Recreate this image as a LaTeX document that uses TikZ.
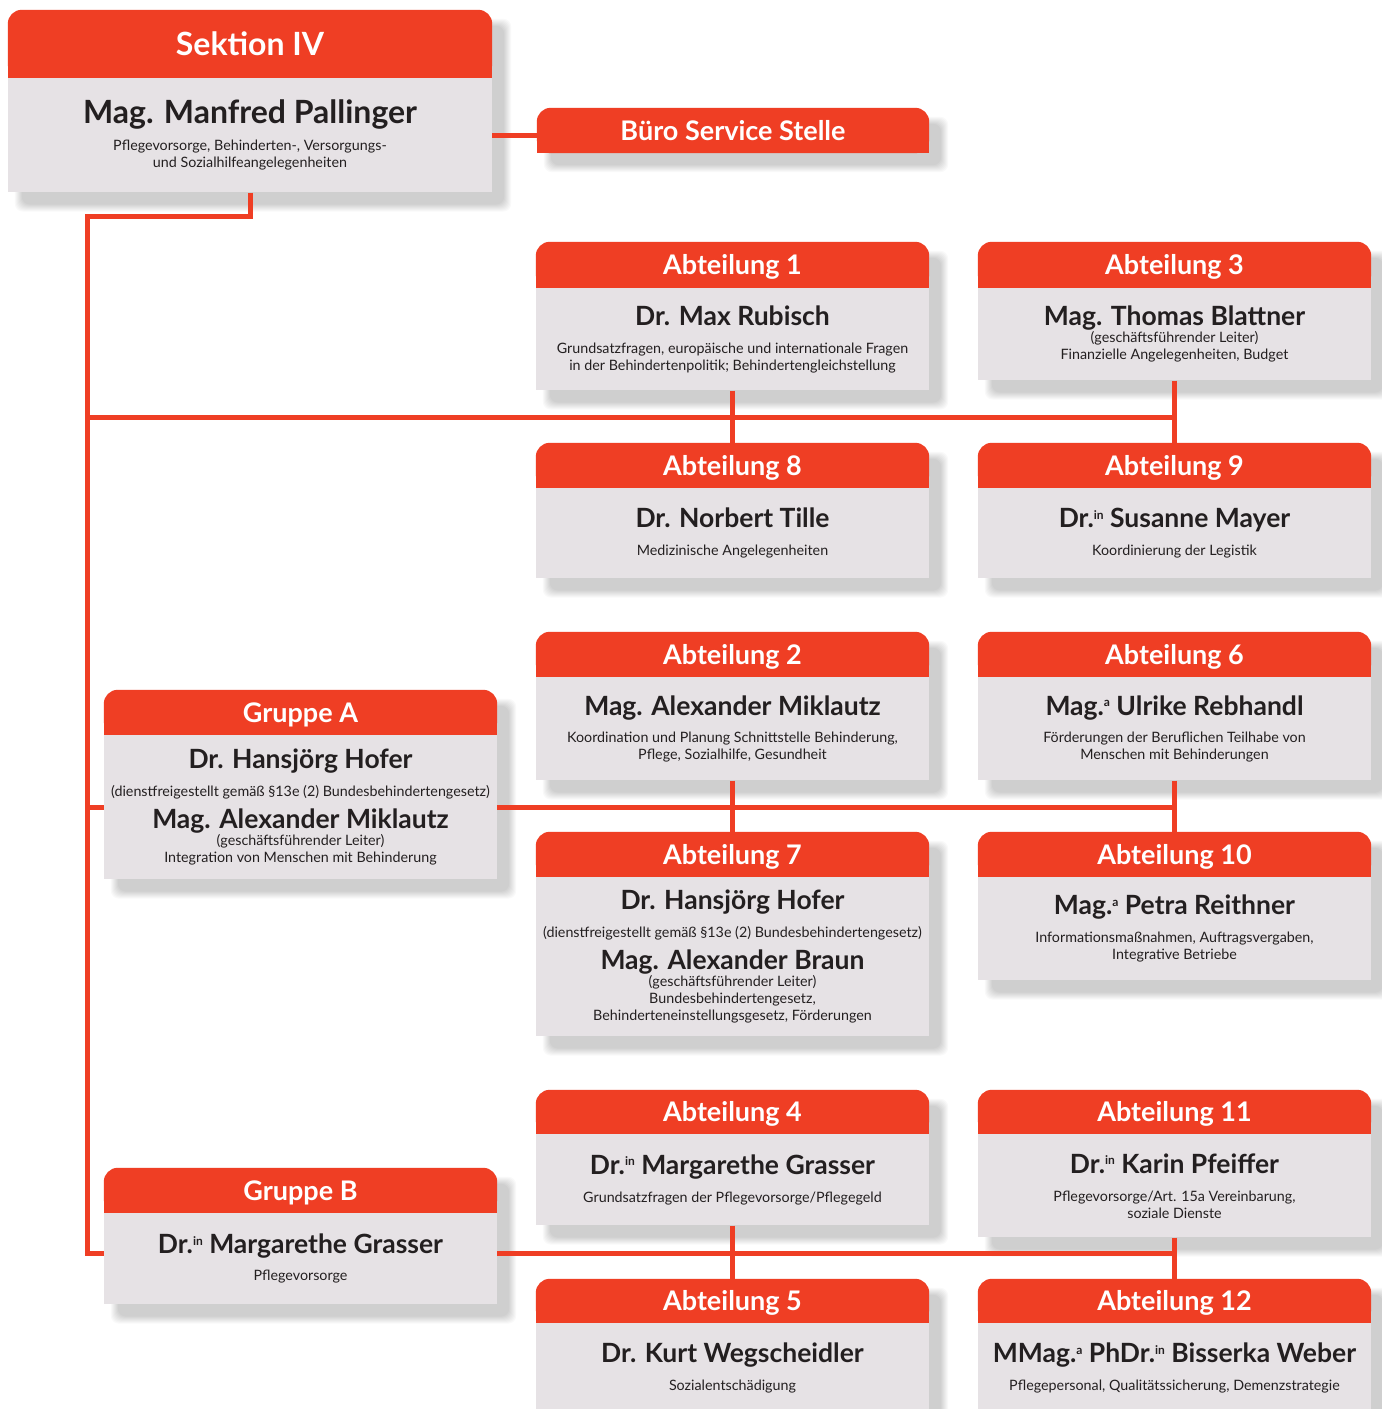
\documentclass[tikz,border=0pt]{standalone}
\usepackage{fontspec}
\setmainfont{Lato}
\usetikzlibrary{positioning,calc}
\definecolor{sekred}{HTML}{EF3E24}
\definecolor{boxgray}{HTML}{E6E2E5}
\definecolor{ink}{HTML}{231F20}
\pgfdeclarelayer{shade}
\pgfdeclarelayer{background}
\pgfsetlayers{shade,background,main}
\setlength{\lineskiplimit}{-50pt}
\newcommand\nm[1]{{\fontsize{26.5}{28}\selectfont\bfseries #1}}
\newcommand\nmbig[1]{{\fontsize{32}{34}\selectfont\bfseries #1}}
\newcommand\hoch[1]{\raisebox{8.5pt}{\fontsize{12}{12}\selectfont #1}}
\tikzset{
  kopf/.style={minimum width=393pt, minimum height=45pt, inner sep=0pt, text=white,
    font=\fontsize{27}{30}\selectfont\bfseries, text height=19.3pt, text depth=0pt},
  rumpf/.style={below=0pt of #1, fill=boxgray, minimum width=393pt, inner sep=0pt,
    align=center, text=ink, font=\fontsize{14.3}{17}\selectfont},
  linie/.style={draw=sekred, line width=5pt},
}
\begin{document}
\begin{tikzpicture}[x=1pt, y=-1pt]
  \useasboundingbox (0,0) rectangle (1382,1409);
  % Sektion und Buero
  \node[kopf, minimum width=484pt, minimum height=68pt, font=\fontsize{32}{34}\selectfont\bfseries, text height=23pt] (sek) at (250,44) {Sektion IV};
  \node[rumpf=sek, minimum width=484pt, minimum height=114pt] (sek-b) {\nmbig{Mag. Manfred Pallinger}\\[10pt]
    Pflegevorsorge, Behinderten-, Versorgungs-\\ und Sozialhilfeangelegenheiten};
  \node[kopf, minimum width=392pt] (bss) at (733,130.5) {Büro Service Stelle};
  % Abteilungen 1, 3, 8, 9
  \node[kopf, minimum height=46pt] (abt1) at (732.5,265) {Abteilung 1};
  \node[rumpf=abt1, minimum height=102pt] (abt1-b) {\nm{Dr. Max Rubisch}\\[11pt]
    Grundsatzfragen, europäische und internationale Fragen\\ in der Behindertenpolitik; Behindertengleichstellung};
  \node[kopf, minimum height=46pt] (abt3) at (1174.5,265) {Abteilung 3};
  \node[rumpf=abt3, minimum height=92pt] (abt3-b) {\nm{Mag. Thomas Blattner}\\
    (geschäftsführender Leiter)\\ Finanzielle Angelegenheiten, Budget};
  \node[kopf] (abt8) at (732.5,465.5) {Abteilung 8};
  \node[rumpf=abt8, minimum height=90pt] (abt8-b) {\nm{Dr. Norbert Tille}\\[11pt] Medizinische Angelegenheiten};
  \node[kopf] (abt9) at (1174.5,465.5) {Abteilung 9};
  \node[rumpf=abt9, minimum height=90pt] (abt9-b) {\nm{Dr.\hoch{in} Susanne Mayer}\\[11pt] Koordinierung der Legistik};
  % Gruppe A mit 2, 6, 7, 10
  \node[kopf] (grA) at (300.5,712.5) {Gruppe A};
  \node[rumpf=grA, minimum height=144pt] (grA-b) {\nm{Dr. Hansjörg Hofer}\\[11pt]
    (dienstfreigestellt gemäß §13e (2) Bundesbehindertengesetz)\\[15pt]
    \nm{Mag. Alexander Miklautz}\\ (geschäftsführender Leiter)\\ Integration von Menschen mit Behinderung};
  \node[kopf] (abt2) at (732.5,654.5) {Abteilung 2};
  \node[rumpf=abt2, minimum height=103pt] (abt2-b) {\nm{Mag. Alexander Miklautz}\\[10pt]
    Koordination und Planung Schnittstelle Behinderung,\\ Pflege, Sozialhilfe, Gesundheit};
  \node[kopf] (abt6) at (1174.5,654.5) {Abteilung 6};
  \node[rumpf=abt6, minimum height=103pt] (abt6-b) {\nm{Mag.\hoch{a} Ulrike Rebhandl}\\[10pt]
    Förderungen der Beruflichen Teilhabe von\\ Menschen mit Behinderungen};
  \node[kopf] (abt7) at (732.5,854.5) {Abteilung 7};
  \node[rumpf=abt7, minimum height=159pt] (abt7-b) {\nm{Dr. Hansjörg Hofer}\\[11pt]
    (dienstfreigestellt gemäß §13e (2) Bundesbehindertengesetz)\\[15pt]
    \nm{Mag. Alexander Braun}\\ (geschäftsführender Leiter)\\ Bundesbehindertengesetz,\\
    Behinderteneinstellungsgesetz, Förderungen};
  \node[kopf] (abt10) at (1174.5,854.5) {Abteilung 10};
  \node[rumpf=abt10, minimum height=103pt] (abt10-b) {\nm{Mag.\hoch{a} Petra Reithner}\\[11pt]
    Informationsmaßnahmen, Auftragsvergaben,\\ Integrative Betriebe};
  % Gruppe B mit 4, 5, 11, 12
  \node[kopf] (grB) at (300.5,1190.5) {Gruppe B};
  \node[rumpf=grB, minimum height=91pt] (grB-b) {\nm{Dr.\hoch{in} Margarethe Grasser}\\[10pt] Pflegevorsorge};
  \node[kopf, minimum height=44pt] (abt4) at (732.5,1112) {Abteilung 4};
  \node[rumpf=abt4, minimum height=91pt] (abt4-b) {\nm{Dr.\hoch{in} Margarethe Grasser}\\[11pt]
    Grundsatzfragen der Pflegevorsorge/Pflegegeld};
  \node[kopf, minimum height=44pt] (abt11) at (1174.5,1112) {Abteilung 11};
  \node[rumpf=abt11, minimum height=103pt] (abt11-b) {\nm{Dr.\hoch{in} Karin Pfeiffer}\\[11pt]
    Pflegevorsorge/Art. 15a Vereinbarung,\\ soziale Dienste};
  \node[kopf, minimum height=44pt] (abt5) at (732.5,1301) {Abteilung 5};
  \node[rumpf=abt5, minimum height=90pt] (abt5-b) {\nm{Dr. Kurt Wegscheidler}\\[11pt] Sozialentschädigung};
  \node[kopf, minimum height=44pt] (abt12) at (1174.5,1301) {Abteilung 12};
  \node[rumpf=abt12, minimum height=90pt] (abt12-b) {\nm{MMag.\hoch{a} PhDr.\hoch{in} Bisserka Weber}\\[11pt]
    Pflegepersonal, Qualitätssicherung, Demenzstrategie};
  % Schatten
  \begin{pgfonlayer}{shade}
    \fill[white] (0,0) rectangle (1382,1409);
    \foreach \hd/\bd in {sek/sek-b, bss/bss, abt1/abt1-b, abt3/abt3-b, abt8/abt8-b, abt9/abt9-b,
        abt2/abt2-b, abt6/abt6-b, grA/grA-b, abt7/abt7-b, abt10/abt10-b,
        abt4/abt4-b, abt11/abt11-b, grB/grB-b, abt5/abt5-b, abt12/abt12-b}
      \foreach \k in {0,...,7}
        \fill[black, opacity=0.022, rounded corners=8pt]
          ($(\hd.north west)+(14-\k,16-\k)$) rectangle ($(\bd.south east)+(12+\k,12+\k)$);
  \end{pgfonlayer}
  % Linien und Kopfleisten
  \begin{pgfonlayer}{background}
    \coordinate (knie) at (87,216);
    \coordinate (fuss) at (87,1253);
    \coordinate (reihe1) at (87,417);
    \coordinate (reihe2) at (87,807);
    \draw[linie] (sek-b.south) |- (knie) -- (fuss) -- (fuss -| abt12.north);
    \draw[linie] (sek-b.east) -- (sek-b.east -| bss.west);
    \draw[linie] (reihe1) -- (reihe1 -| abt9.north);
    \draw[linie] (reihe2) -- (reihe2 -| abt10.north);
    \draw[linie] (abt1-b.south) -- (abt8.north);
    \draw[linie] (abt3-b.south) -- (abt9.north);
    \draw[linie] (abt2-b.south) -- (abt7.north);
    \draw[linie] (abt6-b.south) -- (abt10.north);
    \draw[linie] (abt4-b.south) -- (abt5.north);
    \draw[linie] (abt11-b.south) -- (abt12.north);
    \foreach \n in {sek,bss,abt1,abt3,abt8,abt9,abt2,abt6,grA,abt7,abt10,abt4,abt11,grB,abt5,abt12}{
      \fill[sekred, rounded corners=14pt] (\n.south west) rectangle (\n.north east);
      \fill[sekred] (\n.south west) rectangle (\n.east);
    }
  \end{pgfonlayer}
\end{tikzpicture}
\end{document}
